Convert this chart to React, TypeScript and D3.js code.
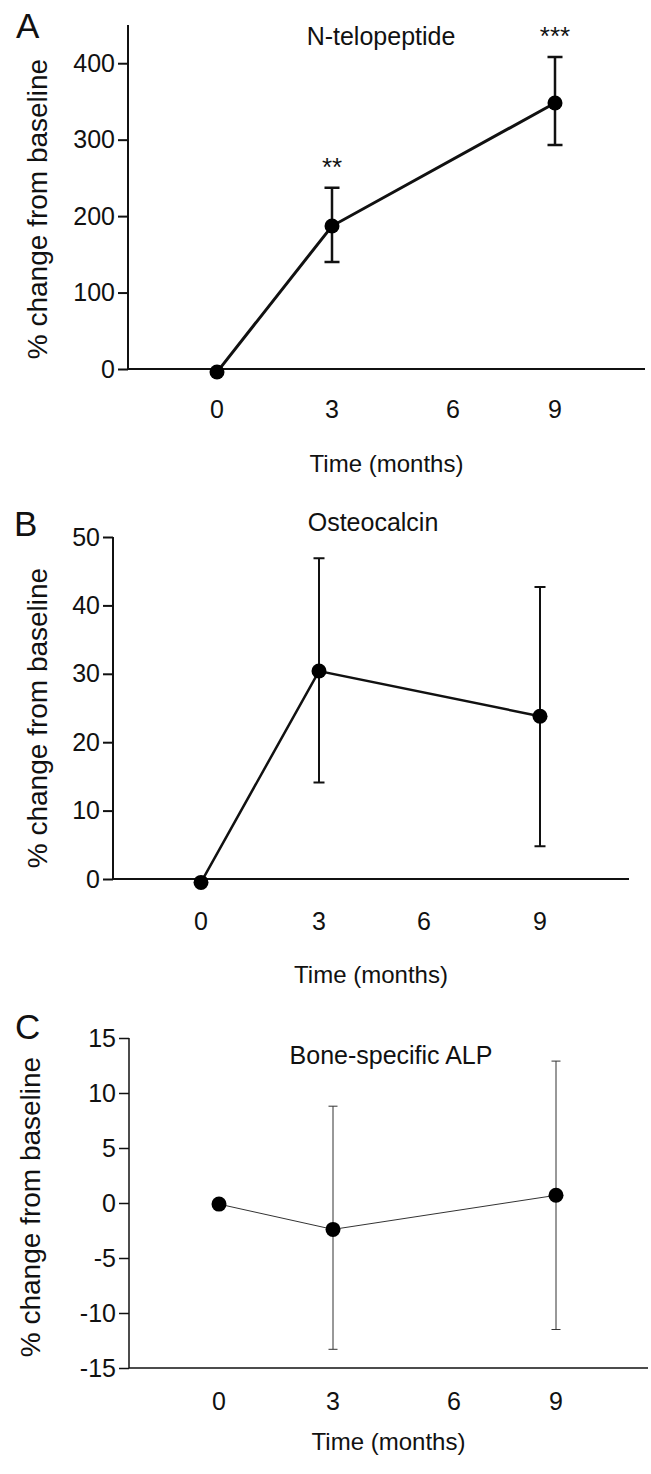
import React, { useEffect, useRef } from "react";
import * as d3 from "d3";

// time points (months) and x-axis tick labels
const months = [0, 3, 9];
const monthTicks = [0, 3, 6, 9];

// A: N-telopeptide, % change from baseline
const nteloMean = [-4, 187, 348];
const nteloLow = [null, 140, 293];
const nteloHigh = [null, 237, 408];
const nteloStars = ["", "**", "***"];
const nteloTicks = [0, 100, 200, 300, 400];

// B: Osteocalcin
const osteoMean = [-0.5, 30.4, 23.8];
const osteoLow = [null, 14.1, 4.8];
const osteoHigh = [null, 46.9, 42.7];
const osteoTicks = [0, 10, 20, 30, 40, 50];

// C: Bone-specific ALP
const alpMean = [-0.1, -2.4, 0.7];
const alpLow = [null, -13.3, -11.5];
const alpHigh = [null, 8.8, 12.9];
const alpTicks = [-15, -10, -5, 0, 5, 10, 15];

const FONT = "'Liberation Sans', Arial, Helvetica, sans-serif";

const panels = [
  {
    letter: "A", title: "N-telopeptide",
    mean: nteloMean, low: nteloLow, high: nteloHigh, stars: nteloStars, ticks: nteloTicks,
    yDomain: [0, 450], yRange: [369, 25],
    axisX: 128, axisRight: 645, xRange: [217, 332, 453, 555],
    letterPos: [16, 38], titlePos: [381, 45], ylabPos: [47, 209],
    tickY: 418, xlabY: 472,
    lineW: 3, errW: 2.5, cap: 15, axisW: 2, color: "#111", r: 7.5,
  },
  {
    letter: "B", title: "Osteocalcin",
    mean: osteoMean, low: osteoLow, high: osteoHigh, stars: null, ticks: osteoTicks,
    yDomain: [0, 50], yRange: [879, 537],
    axisX: 113, axisRight: 629, xRange: [201, 319, 424, 540],
    letterPos: [14, 536], titlePos: [373, 531], ylabPos: [47, 718],
    tickY: 930, xlabY: 983,
    lineW: 2.5, errW: 2, cap: 11, axisW: 2, color: "#111", r: 7.5,
  },
  {
    letter: "C", title: "Bone-specific ALP",
    mean: alpMean, low: alpLow, high: alpHigh, stars: null, ticks: alpTicks,
    yDomain: [-15, 15], yRange: [1368, 1038],
    axisX: 129, axisRight: 648, xRange: [219, 333, 454, 556],
    letterPos: [15, 1039], titlePos: [391, 1064], ylabPos: [40, 1207],
    tickY: 1410, xlabY: 1450,
    lineW: 1, errW: 1, cap: 9, axisW: 1.5, color: "#333", r: 7.5,
  },
];

const fmt = (d: number) => String(d); // plain hyphen minus, as in the figure

export default function App() {
  const ref = useRef<SVGSVGElement | null>(null);

  useEffect(() => {
    const svg = d3.select(ref.current);
    svg.selectAll("*").remove();

    panels.forEach((p) => {
      const g = svg.append("g");
      const x = d3.scaleLinear().domain(monthTicks).range(p.xRange);
      const y = d3.scaleLinear().domain(p.yDomain).range(p.yRange);

      // y axis
      const yAxis = d3.axisLeft(y).tickValues(p.ticks).tickSize(10).tickPadding(3).tickFormat(fmt as any);
      const ya = g.append("g").attr("transform", `translate(${p.axisX},0)`).call(yAxis);
      ya.select(".domain").attr("stroke", "#111").attr("stroke-width", p.axisW).attr("d", `M0,${y.range()[0]}V${y.range()[1]}`);
      ya.selectAll(".tick line").attr("stroke", "#111").attr("stroke-width", p.axisW);
      ya.selectAll(".tick text").attr("font-family", FONT).attr("font-size", 25).attr("fill", "#111");

      // x axis line (no tick marks)
      g.append("line")
        .attr("x1", p.axisX).attr("x2", p.axisRight)
        .attr("y1", y(p.yDomain[0])).attr("y2", y(p.yDomain[0]))
        .attr("stroke", "#111").attr("stroke-width", p.axisW);

      g.selectAll(".xt").data(monthTicks).enter().append("text")
        .attr("x", (d) => x(d)).attr("y", p.tickY)
        .attr("text-anchor", "middle")
        .attr("font-family", FONT).attr("font-size", 25).attr("fill", "#111")
        .text((d) => d);

      g.append("text")
        .attr("x", (p.axisX + p.axisRight) / 2).attr("y", p.xlabY)
        .attr("text-anchor", "middle")
        .attr("font-family", FONT).attr("font-size", 24).attr("fill", "#111")
        .text("Time (months)");

      g.append("text")
        .attr("transform", `translate(${p.ylabPos[0]},${p.ylabPos[1]}) rotate(-90)`)
        .attr("text-anchor", "middle")
        .attr("font-family", FONT).attr("font-size", 28).attr("fill", "#111")
        .text("% change from baseline");

      g.append("text")
        .attr("x", p.letterPos[0]).attr("y", p.letterPos[1])
        .attr("font-family", FONT).attr("font-size", 35).attr("fill", "#111")
        .text(p.letter);

      g.append("text")
        .attr("x", p.titlePos[0]).attr("y", p.titlePos[1])
        .attr("text-anchor", "middle")
        .attr("font-family", FONT).attr("font-size", 25).attr("fill", "#111")
        .text(p.title);

      const pts = months.map((m, i) => ({ m, v: p.mean[i], lo: p.low[i], hi: p.high[i], s: p.stars ? p.stars[i] : "" }));

      // error bars
      const eb = pts.filter((d) => d.lo !== null);
      g.selectAll(".eb").data(eb).enter().append("path")
        .attr("d", (d) => {
          const cx = x(d.m), h = p.cap / 2;
          return `M${cx},${y(d.lo)}V${y(d.hi)}M${cx - h},${y(d.hi)}H${cx + h}M${cx - h},${y(d.lo)}H${cx + h}`;
        })
        .attr("fill", "none").attr("stroke", p.color).attr("stroke-width", p.errW);

      const line = d3.line<any>().x((d) => x(d.m)).y((d) => y(d.v));
      g.append("path").datum(pts).attr("d", line)
        .attr("fill", "none").attr("stroke", p.color).attr("stroke-width", p.lineW);

      g.selectAll(".pt").data(pts).enter().append("circle")
        .attr("cx", (d) => x(d.m)).attr("cy", (d) => y(d.v)).attr("r", p.r)
        .attr("fill", "#000");

      // significance stars
      g.selectAll(".st").data(pts.filter((d) => d.s)).enter().append("text")
        .attr("x", (d) => x(d.m)).attr("y", (d) => y(d.hi) - 12)
        .attr("text-anchor", "middle")
        .attr("font-family", FONT).attr("font-size", 26).attr("fill", "#111")
        .text((d) => d.s);
    });
  }, []);

  return (
    <svg
      ref={ref}
      width={651}
      height={1474}
      style={{ position: "absolute", left: 0, top: 0, background: "#fff" }}
    />
  );
}
